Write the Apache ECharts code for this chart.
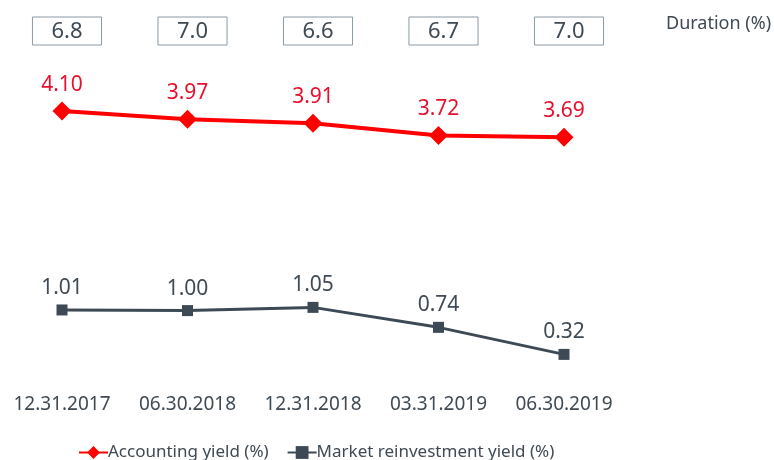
<!DOCTYPE html>
<html>
<head>
<meta charset="utf-8">
<script src="https://cdn.jsdelivr.net/npm/echarts@6/dist/echarts.min.js"></script>
<style>
  html, body { margin: 0; padding: 0; background: #fff; }
  #chart { width: 774px; height: 460px; }
</style>
</head>
<body>
<div id="chart"></div>
<script>
const dates = ['12.31.2017', '06.30.2018', '12.31.2018', '03.31.2019', '06.30.2019']
const duration = ['6.8', '7.0', '6.6', '6.7', '7.0']
const accountingYield = [4.10, 3.97, 3.91, 3.72, 3.69]
const marketYield = [1.01, 1.00, 1.05, 0.74, 0.32]

const FONT = 'Noto Sans'
const GREY = '#3f4a54'
const RED = '#ff0000'

let myChart = echarts.init(document.getElementById('chart'))

let opt = {
  backgroundColor: '#fff',
  animation: false,
  textStyle: { fontFamily: FONT },
  title: {
    text: 'Duration (%)',
    left: 661,
    top: 10,
    textStyle: { color: GREY, fontSize: 18, fontWeight: 'normal', fontFamily: FONT }
  },
  legend: {
    left: 73,
    top: 439,
    itemWidth: 29,
    itemHeight: 16,
    itemGap: 18,
    textStyle: { color: GREY, fontSize: 17, padding: [0, 0, 0, -5] },
    data: ['Accounting yield (%)', 'Market reinvestment yield (%)']
  },
  grid: [
    { left: 62, right: 210, top: 53, height: 322, containLabel: false },
    // boxes for duration sit a little to the right of the points
    { left: 67, right: 205, top: 53, height: 10, containLabel: false }
  ],
  xAxis: [
    {
      type: 'category',
      gridIndex: 0,
      boundaryGap: false,
      data: dates,
      axisLine: { show: false },
      axisTick: { show: false },
      axisLabel: { color: GREY, fontSize: 19, margin: 20, interval: 0 }
    },
    {
      type: 'category',
      gridIndex: 1,
      position: 'top',
      boundaryGap: false,
      data: duration,
      axisLine: { show: false },
      axisTick: { show: false },
      axisLabel: {
        color: GREY,
        fontSize: 22,
        margin: 8,
        lineHeight: 23,
        interval: 0,
        borderColor: '#8a9aa6',
        borderWidth: 1,
        padding: [3, 19, 2, 19]
      }
    }
  ],
  yAxis: [
    { type: 'value', gridIndex: 0, min: 0, max: 5, show: false },
    { type: 'value', gridIndex: 1, show: false }
  ],
  series: [
    {
      name: 'Accounting yield (%)',
      type: 'line',
      data: accountingYield,
      symbol: 'diamond',
      symbolSize: 19,
      color: RED,
      lineStyle: { color: RED, width: 4 },
      itemStyle: { color: RED },
      label: {
        show: true,
        position: 'top',
        distance: 6,
        color: '#e8112d',
        fontSize: 21,
        formatter: p => p.value.toFixed(2)
      }
    },
    {
      name: 'Market reinvestment yield (%)',
      type: 'line',
      data: marketYield,
      symbol: 'rect',
      symbolSize: 11,
      color: '#3d4a55',
      lineStyle: { color: '#3d4a55', width: 3 },
      itemStyle: { color: '#3d4a55' },
      label: {
        show: true,
        position: 'top',
        distance: 6,
        color: GREY,
        fontSize: 21,
        formatter: p => p.value.toFixed(2)
      }
    }
  ]
}

myChart.setOption(opt)
</script>
</body>
</html>
